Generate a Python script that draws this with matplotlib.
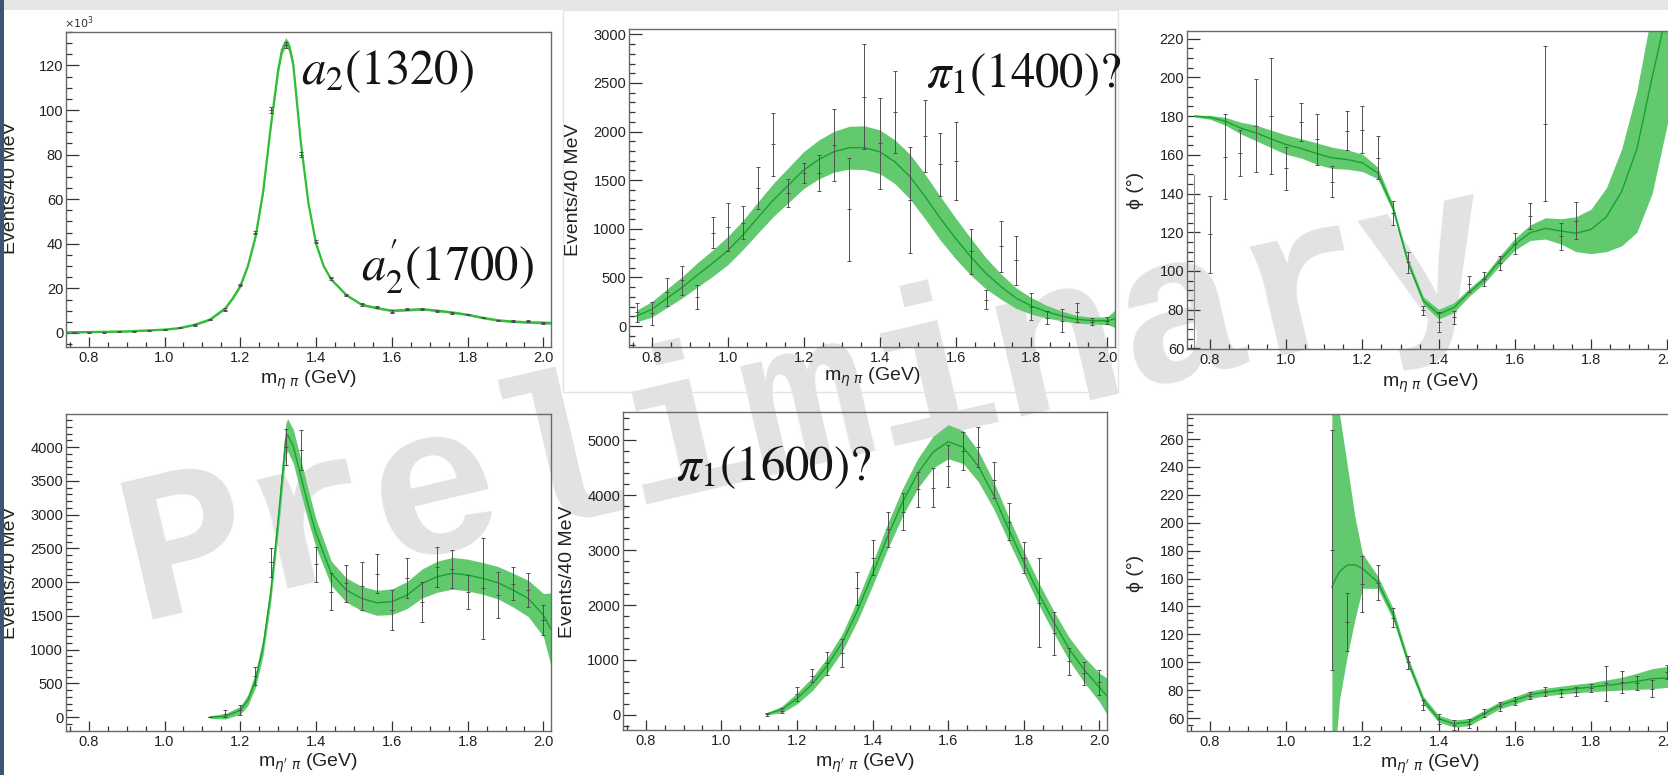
import numpy as np
import matplotlib
matplotlib.use('Agg')
import matplotlib.pyplot as plt
from matplotlib.ticker import MultipleLocator, FormatStrFormatter
from matplotlib.patches import Rectangle

# bin centres of the 40 MeV histograms (0.74 - 2.02 GeV)
bins = [0.76, 0.80, 0.84, 0.88, 0.92, 0.96, 1.00, 1.04, 1.08, 1.12,
        1.16, 1.20, 1.24, 1.28, 1.32, 1.36, 1.40, 1.44, 1.48, 1.52,
        1.56, 1.60, 1.64, 1.68, 1.72, 1.76, 1.80, 1.84, 1.88, 1.92,
        1.96, 2.00]

# --- eta pi, D wave intensity (x10^3) ---
p1_fx = [0.745, 0.80, 0.90, 1.00, 1.04, 1.08, 1.12, 1.16, 1.18, 1.20,
         1.22, 1.24, 1.26, 1.28, 1.30, 1.31, 1.32, 1.33, 1.34, 1.36,
         1.38, 1.40, 1.42, 1.44, 1.48, 1.52, 1.56, 1.60, 1.64, 1.68,
         1.72, 1.76, 1.80, 1.84, 1.88, 1.92, 1.96, 2.00, 2.02]
p1_fit = [0.3, 0.4, 0.7, 1.5, 2.2, 3.7, 6.0, 11.0, 15.5, 21,
          30, 43, 63, 92, 118, 127, 130.5, 128, 120, 85,
          58, 40, 30, 24, 17, 12.7, 11.2, 10.0, 10.3, 10.7,
          10.0, 9.2, 8.2, 6.8, 5.7, 5.1, 4.8, 4.6, 4.5]
p1_hw = [0.3, 0.3, 0.3, 0.3, 0.3, 0.4, 0.4, 0.5, 0.6, 0.7,
         0.8, 1.0, 1.2, 1.5, 1.8, 2.0, 2.0, 2.0, 1.8, 1.3,
         1.0, 0.8, 0.6, 0.6, 0.5, 0.5, 0.5, 0.5, 0.5, 0.5,
         0.5, 0.5, 0.5, 0.5, 0.5, 0.5, 0.5, 0.6, 0.6]
p1_pts = [0.3, 0.35, 0.4, 0.5, 0.7, 1.0, 1.5, 2.3, 3.7, 6.0,
          10.5, 21.5, 45, 100, 129, 80, 41, 24.5, 17, 12.8,
          11.5, 9.6, 10.6, 10.6, 9.8, 9.0, 8.3, 6.9, 5.6, 5.2,
          5.3, 4.6]
p1_err = [0.2, 0.2, 0.2, 0.2, 0.2, 0.3, 0.3, 0.3, 0.4, 0.4,
          0.5, 0.6, 0.8, 1.2, 1.4, 1.0, 0.8, 0.6, 0.5, 0.5,
          0.5, 0.5, 0.5, 0.5, 0.5, 0.5, 0.4, 0.4, 0.4, 0.4,
          0.4, 0.4]

# --- eta pi, P wave intensity ---
p2_fx = bins + [2.02]
p2_fit = [103, 171, 285, 398, 525, 645, 775, 936, 1118, 1296,
          1450, 1604, 1714, 1793, 1834, 1834, 1793, 1690, 1536, 1330,
          1107, 902, 713, 542, 405, 285, 206, 147, 103, 69,
          55, 55, 75]
p2_hw = [60, 80, 95, 110, 125, 135, 145, 150, 160, 170,
         180, 190, 200, 210, 220, 225, 225, 225, 230, 230,
         225, 210, 190, 160, 130, 105, 85, 65, 50, 40,
         35, 40, 90]
p2_pts = [140, 130, 350, 470, 300, 960, 1020, 1060, 1420, 1870,
          1370, 1575, 1575, 1860, 1200, 2360, 1880, 2200, 1300, 1955,
          1665, 1700, 770, 270, 820, 675, 200, 85, 55, 140,
          45, 55]
p2_err = [100, 120, 140, 150, 120, 160, 250, 170, 220, 325,
          145, 105, 185, 370, 530, 540, 470, 425, 545, 370,
          325, 400, 230, 100, 260, 250, 135, 65, 115, 95,
          35, 35]

# --- eta pi, P-D phase difference (deg) ---
p3_fx = bins + [2.02]
p3_fit = [180.0, 179.4, 177.4, 173.9, 171.4, 168.3, 165.3, 163.3, 160.7, 158.5,
          157.6, 155.9, 150.7, 132.7, 104.3, 84.6, 77.7, 81.1, 88.9, 95.7,
          105.2, 113.8, 119.8, 122.0, 120.7, 119.5, 121.5, 128, 141, 163,
          200, 235, 250]
p3_lo = [179.5, 178.4, 175.4, 170.9, 167.4, 163.8, 160.3, 158.3, 155.2, 153.0,
         152.6, 151.4, 147.7, 130.7, 102.3, 82.6, 75.2, 78.6, 86.9, 93.7,
         102.7, 110.8, 115.8, 116.5, 114, 110, 109, 110, 113, 120,
         140, 176, 195]
p3_hi = [180.5, 180.4, 179.4, 176.9, 175.4, 172.8, 170.3, 168.3, 166.2, 164.0,
         162.6, 160.4, 153.7, 134.7, 106.3, 86.6, 80.2, 83.6, 90.9, 97.7,
         107.7, 116.8, 123.8, 127.5, 127, 128, 132, 143, 163, 193,
         235, 280, 300]
p3_x = bins[1:26]
p3_pts = [119, 159, 161, 175, 180, 153, 177, 168, 146, 172.5,
          173, 158.5, 130, 104.6, 79.6, 73.6, 76, 93.2, 95.8, 104.2,
          114.2, 128.2, 176, 118, 126]
p3_err = [20, 22, 12, 24, 30, 11, 10, 13, 8, 10,
          12, 11, 6, 5.4, 2.4, 5, 3.5, 4.3, 3.5, 3.6,
          5.6, 6.7, 40, 7, 9.5]

# --- eta' pi, D wave intensity ---
p4_fx = [1.12, 1.16, 1.20, 1.22, 1.24, 1.26, 1.28, 1.30, 1.32, 1.325,
         1.34, 1.36, 1.38, 1.40, 1.44, 1.48, 1.52, 1.56, 1.60, 1.64,
         1.68, 1.72, 1.76, 1.80, 1.84, 1.88, 1.92, 1.96, 2.00, 2.02]
p4_fit = [0, 10, 100, 250, 545, 1040, 1830, 2920, 4120, 4180,
          4010, 3560, 3120, 2720, 2130, 1880, 1757, 1693, 1708, 1807,
          1980, 2080, 2130, 2104, 2054, 1990, 1880, 1757, 1510, 1300]
p4_hw = [20, 40, 60, 80, 110, 130, 150, 180, 230, 240,
         250, 250, 230, 210, 180, 180, 180, 185, 190, 200,
         215, 230, 235, 235, 235, 240, 250, 270, 320, 540]
p4_x = bins[9:]
p4_pts = [0, 50, 100, 606, 2290, 4000, 3960, 2265, 1855, 1980,
          1943, 2124, 1584, 2054, 1708, 2228, 2190, 1849, 1906, 1807,
          1975, 1881, 1433]
p4_err = [5, 50, 75, 136, 210, 265, 297, 260, 272, 272,
          360, 292, 297, 297, 297, 297, 285, 255, 743, 347,
          243, 248, 220]

# --- eta' pi, P wave intensity ---
p5_fx = bins[9:] + [2.02]
p5_fit = [20, 100, 300, 560, 900, 1320, 1900, 2560, 3250, 3880,
          4400, 4780, 4970, 4870, 4520, 4000, 3380, 2780, 2200, 1680,
          1200, 820, 500, 340]
p5_hw = [20, 60, 100, 120, 140, 160, 190, 210, 230, 250,
         270, 290, 310, 300, 280, 250, 220, 200, 200, 200,
         210, 230, 260, 330]
p5_x = bins[9:]
p5_pts = [10, 75, 388, 718, 939, 1127, 2303, 2864, 3379, 3697,
          4106, 4136, 4530, 4803, 4879, 4273, 3515, 2858, 2045, 1485,
          976, 758, 591]
p5_err = [20, 45, 128, 112, 212, 248, 303, 318, 318, 333,
          318, 348, 379, 348, 364, 333, 333, 282, 803, 394,
          249, 212, 227]

# --- eta' pi, P-D phase difference (deg) ---
p6_fx = [1.12, 1.13, 1.14, 1.16, 1.18, 1.20, 1.24, 1.28, 1.32, 1.36,
         1.40, 1.44, 1.48, 1.52, 1.56, 1.60, 1.64, 1.68, 1.72, 1.76,
         1.80, 1.84, 1.88, 1.92, 1.96, 2.00, 2.02]
p6_fit = [154, 160, 165, 169.6, 170, 167.2, 157.6, 134.9, 100.2, 72.7,
          59.5, 55.9, 57.1, 63.1, 69.1, 72.7, 76.7, 78.7, 79.9, 81.1,
          82.2, 83.4, 84.6, 86.3, 88.2, 88.7, 89.4]
p6_lo = [20, 40, 73, 104, 130, 153, 153, 131, 97, 70,
         57, 53.5, 54.5, 60.5, 66.5, 70, 74, 76, 77, 78,
         79, 79.5, 80, 80.5, 81, 82, 40]
p6_hi = [320, 300, 278, 242, 205, 178, 162, 139, 103.5, 75.5,
         62, 58.5, 59.7, 65.7, 71.7, 75.4, 79.4, 81.4, 82.8, 84.2,
         85.4, 87.3, 89.2, 92.1, 95.4, 97, 125]
p6_x = bins[9:]
p6_pts = [180.6, 129, 156, 157, 132, 100, 69, 59.5, 54.7, 56,
          63.7, 68.3, 72, 76, 79, 78, 79, 81.5, 85, 86,
          85, 81, 93]
p6_err = [86, 21, 20, 12.5, 7, 4.8, 3.6, 3.6, 3.6, 3,
          3, 3, 3, 2.6, 3, 3, 3, 3, 12.5, 8,
          5, 6, 5]

W, H = 1668, 775
BAND = '#62c96f'
LINE = '#17a22c'
ROOT_FONT = ['Liberation Sans', 'DejaVu Sans']

plt.rcParams['font.family'] = ROOT_FONT
plt.rcParams['mathtext.fontset'] = 'dejavusans'


def fig_xy(x, y):
    return x / W, 1 - y / H


def panel(fig, left, top, right, bottom, ylim, ymaj, ymin):
    ax = fig.add_axes([left / W, 1 - bottom / H, (right - left) / W, (bottom - top) / H])
    ax.patch.set_visible(False)
    ax.set_xlim(0.74, 2.02)
    ax.set_ylim(*ylim)
    ax.xaxis.set_major_locator(MultipleLocator(0.2))
    ax.xaxis.set_minor_locator(MultipleLocator(0.05))
    ax.xaxis.set_major_formatter(FormatStrFormatter('%.1f'))
    ax.yaxis.set_major_locator(MultipleLocator(ymaj))
    ax.yaxis.set_minor_locator(MultipleLocator(ymin))
    ax.tick_params(which='both', direction='in', top=False, right=False,
                   labelsize=10.5, labelcolor='#222222', color='#333333', width=0.9)
    ax.tick_params(axis='y', which='major', length=9, pad=2)
    ax.tick_params(axis='y', which='minor', length=4.5)
    ax.tick_params(axis='x', which='major', length=7, pad=3)
    ax.tick_params(axis='x', which='minor', length=3.5)
    for s in ax.spines.values():
        s.set_color('#6a6a6a')
        s.set_linewidth(1.0)
    return ax


def draw_fit(ax, fx, fit, lo, hi, color=LINE, lw=1.0):
    ax.fill_between(fx, lo, hi, color=BAND, lw=0, zorder=2)
    ax.plot(fx, fit, color=color, lw=lw, zorder=3)


def draw_points(ax, x, y, err):
    ax.errorbar(x, y, yerr=err, fmt='_', color='#505050', ms=2.5, mew=0.7,
                elinewidth=0.7, capsize=1.3, capthick=0.7, zorder=4)


def band(fit, hw):
    f = np.asarray(fit, dtype=float)
    h = np.asarray(hw, dtype=float)
    return f - h, f + h


def label(fig, x, y, text, rot=0, size=14):
    fig.text(*fig_xy(x, y), text, rotation=rot, ha='center', va='center',
             fontsize=size, color='#222222')


fig = plt.figure(figsize=(W / 100, H / 100), dpi=100)
fig.patch.set_facecolor('white')

# watermark behind the plots
fig.text(*fig_xy(822, 460), 'Preliminary', family='Liberation Mono', weight='bold',
         fontsize=153, color='#e2e2e2', rotation=13.2, ha='center', va='baseline',
         rotation_mode='anchor', zorder=-5)

# faint frame of the middle top picture
fig.add_artist(Rectangle(fig_xy(563, 392), (1118 - 563) / W, (392 - 10) / H,
                         transform=fig.transFigure, fill=False, ec='#e4e4e4', lw=1.0))

# top left: eta pi D wave
ax1 = panel(fig, 66, 32, 551, 347, (-6.3, 135), 20, 5)
lo, hi = band(p1_fit, p1_hw)
draw_fit(ax1, p1_fx, p1_fit, lo, hi, color='#2fbf34', lw=1.6)
draw_points(ax1, bins, p1_pts, p1_err)
fig.text(*fig_xy(64, 28), r'$\times10^{3}$', fontsize=8, color='#333333', ha='left', va='baseline')

# top middle: eta pi P wave
ax2 = panel(fig, 629, 29, 1115, 347, (-216, 3055), 500, 100)
lo, hi = band(p2_fit, p2_hw)
draw_fit(ax2, p2_fx, p2_fit, lo, hi)
draw_points(ax2, bins, p2_pts, p2_err)

# top right: eta pi phase
ax3 = panel(fig, 1187, 31, 1675, 349, (59.7, 224), 20, 5)
draw_fit(ax3, p3_fx, p3_fit, p3_lo, p3_hi)
draw_points(ax3, p3_x, p3_pts, p3_err)
fig.add_artist(plt.Line2D([1194 / W, 1194 / W], [1 - 347 / H, 1 - 175 / H],
                          transform=fig.transFigure, color='#8a8a8a', lw=0.8))

# bottom left: eta' pi D wave
ax4 = panel(fig, 66, 414, 551, 731, (-207, 4490), 500, 100)
lo, hi = band(p4_fit, p4_hw)
draw_fit(ax4, p4_fx, p4_fit, lo, hi)
draw_points(ax4, p4_x, p4_pts, p4_err)

# bottom middle: eta' pi P wave
ax5 = panel(fig, 623, 412, 1107, 730, (-273, 5510), 1000, 200)
lo, hi = band(p5_fit, p5_hw)
draw_fit(ax5, p5_fx, p5_fit, lo, hi)
draw_points(ax5, p5_x, p5_pts, p5_err)

# bottom right: eta' pi phase
ax6 = panel(fig, 1187, 414, 1675, 731, (50.7, 278), 20, 5)
draw_fit(ax6, p6_fx, p6_fit, p6_lo, p6_hi)
draw_points(ax6, p6_x, p6_pts, p6_err)

# axis titles
m_eta = r'm$_{\eta\ \pi}$ (GeV)'
m_etap = r"m$_{\eta'\ \pi}$ (GeV)"
for x, y in [(308, 380), (872, 377), (1430, 383)]:
    label(fig, x, y, m_eta)
for x, y in [(308, 763), (865, 763), (1430, 764)]:
    label(fig, x, y, m_etap)
for x, y in [(11, 188), (574, 190), (11, 573), (568, 572)]:
    label(fig, x, y, 'Events/40 MeV', rot=90)
for x, y in [(1135, 190), (1135, 573)]:
    label(fig, x, y, 'ϕ (°)', rot=90)

# resonance labels
ann = dict(family='STIXGeneral', math_fontfamily='stix', fontsize=35,
           color='#141414', ha='left', va='baseline')
fig.text(*fig_xy(301, 84), r'$a_2(1320)$', **ann)
fig.text(*fig_xy(361, 281), r"$a_2^{\prime}(1700)$", **ann)
fig.text(*fig_xy(926, 87), r'$\pi_1(1400)$?', **ann)
fig.text(*fig_xy(676, 480), r'$\pi_1(1600)$?', **ann)

# slide border strips
fig.add_artist(Rectangle((0, 1 - 10 / H), 1, 10 / H, transform=fig.transFigure,
                         color='#e6e6e6', lw=0, zorder=10))
fig.add_artist(Rectangle((0, 0), 4 / W, 1, transform=fig.transFigure,
                         color='#3d5475', lw=0, zorder=11))

fig.savefig('out.png', dpi=100)
